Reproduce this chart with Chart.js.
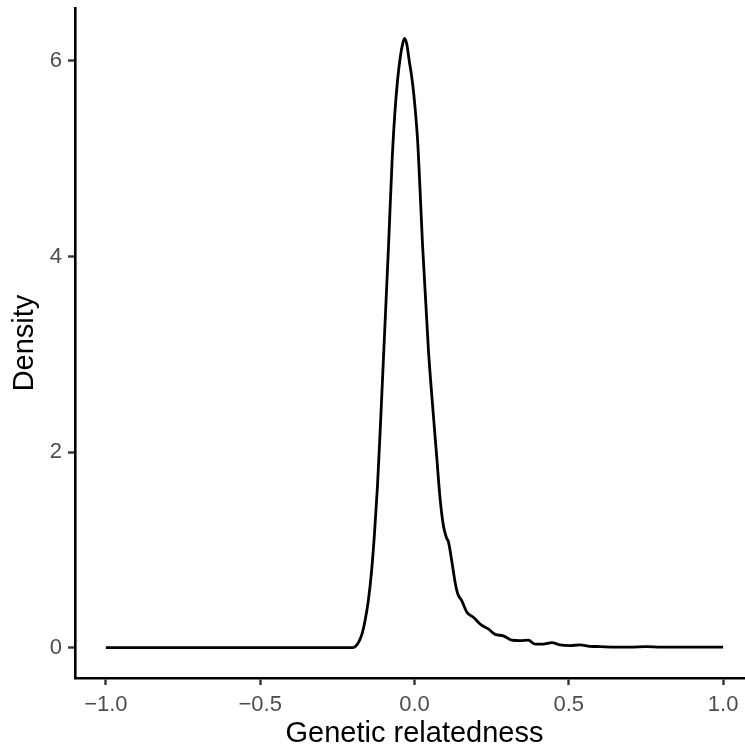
<!DOCTYPE html>
<html>
<head>
<meta charset="utf-8">
<script src="https://cdn.jsdelivr.net/npm/chart.js@4.4.1/dist/chart.umd.min.js"></script>
<style>
  html, body { margin: 0; padding: 0; background: #fff; overflow: hidden; }
  #wrap { width: 754px; height: 750px; position: relative; }
</style>
</head>
<body>
<div id="wrap"><canvas id="DensityChart"></canvas></div>
<script>
// values
const Relatedness = [-1.0, -0.6, -0.2, -0.19, -0.18, -0.17, -0.16, -0.15, -0.14, -0.13, -0.12, -0.11, -0.1, -0.084, -0.073, -0.064, -0.055, -0.046, -0.038, -0.032, -0.025, -0.017, -0.01, -0.003, 0.01, 0.018, 0.026, 0.045, 0.058, 0.072, 0.083, 0.094, 0.104, 0.11, 0.121, 0.132, 0.14, 0.153, 0.17, 0.191, 0.213, 0.239, 0.261, 0.288, 0.315, 0.342, 0.369, 0.391, 0.417, 0.445, 0.472, 0.504, 0.536, 0.568, 0.601, 0.65, 0.7, 0.75, 0.8, 0.85, 0.9, 0.95, 1.0]
const Density = [0, 0, 0, 0.015, 0.06, 0.14, 0.28, 0.47, 0.75, 1.15, 1.65, 2.3, 3.0, 4.12, 4.95, 5.45, 5.8, 6.04, 6.18, 6.23, 6.17, 6.0, 5.86, 5.68, 5.19, 4.68, 4.12, 3.05, 2.5, 1.95, 1.52, 1.24, 1.12, 1.08, 0.88, 0.66, 0.55, 0.48, 0.36, 0.31, 0.24, 0.19, 0.135, 0.12, 0.075, 0.07, 0.075, 0.034, 0.034, 0.05, 0.027, 0.02, 0.027, 0.013, 0.01, 0.005, 0.005, 0.01, 0.005, 0.005, 0.004, 0.004, 0.004]
const XTicks = [-1.0, -0.5, 0.0, 0.5, 1.0]
const YTicks = [0, 2, 4, 6]
const XTitle = 'Genetic relatedness'
const YTitle = 'Density'

const Points = Relatedness.map((x, i) => ({ x: x, y: Density[i] }))
const FontFamily = '"Liberation Sans", Arial, Helvetica, sans-serif'

function AxisStyle(tickValues, width, height) {
    return {
        afterBuildTicks: function (scale) {
            scale.ticks = tickValues.map(v => ({ value: v }))
        },
        afterFit: function (scale) {
            if (width) scale.width = width
            if (height) scale.height = height
            // no extra room for the end labels, the plot box is fixed
            scale.paddingTop = 0
            scale.paddingBottom = 0
            scale.paddingLeft = 0
            scale.paddingRight = 0
        },
        border: { display: true, color: '#000000', width: 2.6 },
        grid: {
            display: true,
            drawOnChartArea: false,
            drawTicks: true,
            tickLength: 7,
            tickWidth: 2.4,
            tickColor: '#333333'
        }
    }
}

let XAxis = AxisStyle(XTicks, null, 72)
XAxis.type = 'linear'
XAxis.min = -1.1
XAxis.max = 1.1
XAxis.ticks = {
    padding: 7,
    color: '#4D4D4D',
    font: { family: FontFamily, size: 22 },
    maxRotation: 0,
    callback: v => (v < 0 ? '\u2212' : '') + Math.abs(v).toFixed(1)
}
XAxis.title = {
    display: true,
    text: XTitle,
    color: '#000000',
    padding: 0,
    font: { family: FontFamily, size: 29, lineHeight: 1.1 }
}

let YAxis = AxisStyle(YTicks, 75, null)
YAxis.type = 'linear'
YAxis.min = -0.3115
YAxis.max = 6.5415
YAxis.ticks = {
    padding: 6,
    color: '#4D4D4D',
    font: { family: FontFamily, size: 22 },
    callback: v => String(v)
}
YAxis.title = {
    display: true,
    text: YTitle,
    color: '#000000',
    padding: { top: 9, bottom: 0 },
    font: { family: FontFamily, size: 29, lineHeight: 1.1 }
}

let ChartDensity = new Chart(document.getElementById('DensityChart'), {
    type: 'line',
    data: {
        datasets: [{
            label: YTitle,
            data: Points,
            borderColor: '#000000',
            borderWidth: 2.8,
            pointRadius: 0,
            fill: false,
            cubicInterpolationMode: 'monotone'
        }]
    },
    options: {
        responsive: true,
        maintainAspectRatio: false,
        devicePixelRatio: 1,
        animation: false,
        layout: { padding: { top: 8, right: 0, bottom: 0, left: 0 } },
        plugins: {
            legend: { display: false },
            tooltip: { enabled: false }
        },
        scales: {
            x: XAxis,
            y: YAxis
        }
    }
});
</script>
</body>
</html>
